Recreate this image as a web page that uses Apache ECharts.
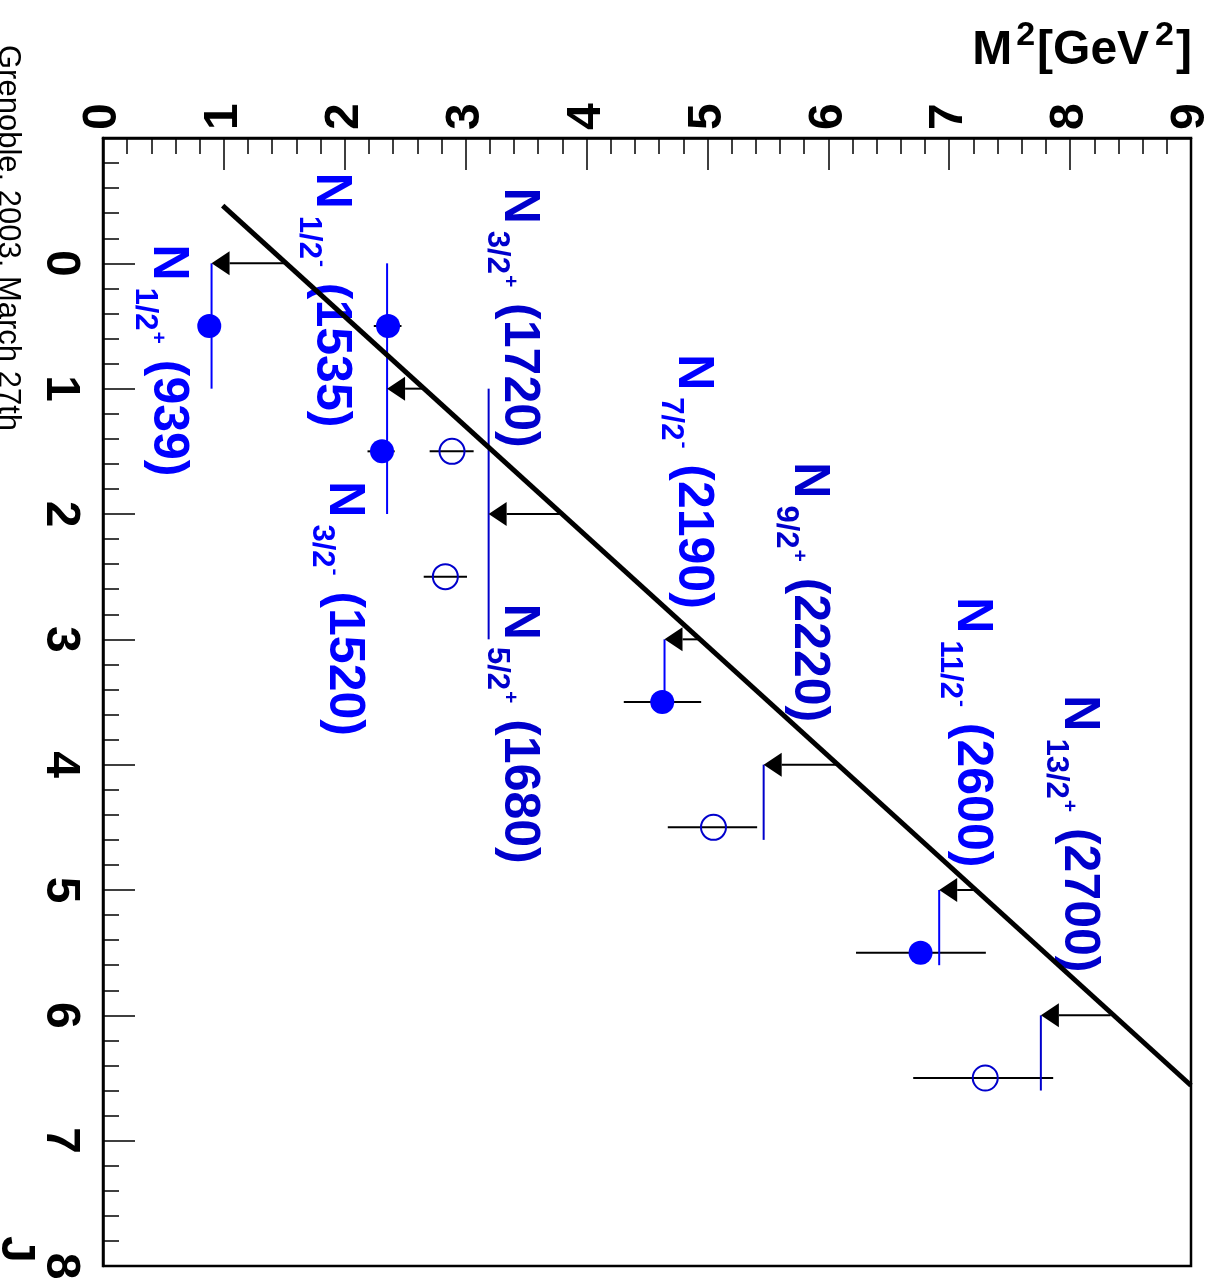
<!DOCTYPE html>
<html>
<head>
<meta charset="utf-8">
<script src="https://cdn.jsdelivr.net/npm/echarts@6/dist/echarts.min.js"></script>
<style>
  html, body { margin: 0; padding: 0; background: #fff; }
  #chart { width: 1215px; height: 1283px; }
</style>
</head>
<body>
<div id="chart"></div>
<script>
// Nucleon states in the (M^2, J) plane
const stateSpin   = ['1/2', '1/2', '3/2', '3/2', '5/2', '7/2', '9/2', '11/2', '13/2'];
const stateParity = ['+', '-', '-', '+', '+', '-', '+', '-', '+'];
const stateMass   = ['939', '1535', '1520', '1720', '1680', '2190', '2220', '2600', '2700'];
const stateM2     = [0.879, 2.358, 2.308, 2.887, 2.832, 4.626, 5.050, 6.763, 7.298];
const stateJ      = [0.5, 0.5, 1.5, 1.5, 2.5, 3.5, 4.5, 5.5, 6.5];
const stateM2Low  = [0.879, 2.240, 2.188, 2.702, 2.653, 4.308, 4.672, 6.229, 6.702];
const stateM2High = [0.879, 2.469, 2.413, 3.066, 3.011, 4.948, 5.411, 7.303, 7.860];
const stateFilled = [true, true, true, false, false, true, false, true, false];

// where each state's name is written (M^2, J of the text start)
const labelM2 = [0.533, 1.888, 1.993, 3.440, 3.440, 4.880, 5.836, 7.186, 8.068];
const labelJ  = [-0.151, -0.723, 1.739, -0.603, 2.717, 0.725, 1.588, 2.664, 3.447];

// linear Regge trajectory
const reggeM2 = [0.99, 9.0];
const reggeJ  = [-0.46, 6.56];

// arrows from the trajectory at integer J, and the bars hanging from their tips
const arrowJ      = [0, 1, 2, 3, 4, 5, 6];
const arrowFromM2 = [1.498, 2.645, 3.791, 4.948, 6.077, 7.207, 8.336];
const arrowToM2   = [0.898, 2.350, 3.190, 4.645, 5.465, 6.917, 7.758];
const dropJFrom   = [0, 0, 1, 3, 4, 5, 6];
const dropJTo     = [1, 2, 3, 3.5, 4.6, 5.6, 6.6];
const dropFilled  = [true, true, false, true, false, true, false];

// axis ranges
const m2Range = [0, 9];
const jRange  = [-1, 8];

const BRIGHT = '#0000ff';
const DARK = '#0000cc';
const FONT = 'Liberation Sans, Arial, Helvetica, sans-serif';
const HEAD_LEN = 18;
const HEAD_HALF = 12;

const chart = echarts.init(document.getElementById('chart'), null, { renderer: 'canvas' });

const filledPts = [], openPts = [], errBars = [], labels = [];
stateM2.forEach((m, i) => {
  (stateFilled[i] ? filledPts : openPts).push([m, stateJ[i]]);
  errBars.push([stateM2Low[i], stateM2High[i], stateJ[i]]);
  labels.push([labelM2[i], labelJ[i], i]);
});
const arrows = arrowJ.map((j, i) => [arrowFromM2[i], arrowToM2[i], j]);
const drops = arrowToM2.map((m, i) => [m, dropJFrom[i], dropJTo[i], dropFilled[i] ? 1 : 0]);
const regge = reggeM2.map((m, i) => [m, reggeJ[i]]);

function renderLabel(params, api) {
  const i = api.value(2);
  const p = api.coord([api.value(0), api.value(1)]);
  const color = stateFilled[i] ? BRIGHT : DARK;
  return {
    type: 'text',
    x: p[0], y: p[1],
    rotation: -Math.PI / 2,
    style: {
      text: '{n|N}{s|' + stateSpin[i] + '}{p|' + stateParity[i] + '}{n| (' + stateMass[i] + ')}',
      fill: color,
      align: 'left',
      verticalAlign: 'middle',
      fontFamily: FONT, fontWeight: 'bold', fontSize: 50,
      rich: {
        n: { fontSize: 50, fontWeight: 'bold', fontFamily: FONT, fill: color, verticalAlign: 'middle' },
        s: { fontSize: 31, fontWeight: 'bold', fontFamily: FONT, fill: color, verticalAlign: 'middle', padding: [45, 0, 0, 7] },
        p: { fontSize: 21, fontWeight: 'bold', fontFamily: FONT, fill: color, verticalAlign: 'middle', padding: [19, 2, 0, 1] }
      }
    }
  };
}

function renderArrow(params, api) {
  const j = api.value(2);
  const a = api.coord([api.value(0), j]);
  const b = api.coord([api.value(1), j]);
  return {
    type: 'group',
    children: [
      { type: 'line', shape: { x1: a[0], y1: a[1], x2: b[0] + HEAD_LEN, y2: b[1] },
        style: { stroke: '#000', lineWidth: 2 } },
      { type: 'polygon', shape: { points: [[b[0], b[1]], [b[0] + HEAD_LEN, b[1] - HEAD_HALF], [b[0] + HEAD_LEN, b[1] + HEAD_HALF]] },
        style: { fill: '#000' } }
    ]
  };
}

function renderDrop(params, api) {
  const m = api.value(0);
  const a = api.coord([m, api.value(1)]);
  const b = api.coord([m, api.value(2)]);
  return {
    type: 'line',
    shape: { x1: a[0], y1: a[1], x2: b[0], y2: b[1] },
    style: { stroke: api.value(3) ? BRIGHT : DARK, lineWidth: 2 }
  };
}

function renderErr(params, api) {
  const j = api.value(2);
  const a = api.coord([api.value(0), j]);
  const b = api.coord([api.value(1), j]);
  return {
    type: 'line',
    shape: { x1: a[0], y1: a[1], x2: b[0], y2: b[1] },
    style: { stroke: '#000', lineWidth: 2 }
  };
}

const tickLabel = { fontFamily: FONT, fontWeight: 'bold', fontSize: 48, color: '#000' };

chart.setOption({
  animation: false,
  backgroundColor: '#fff',
  grid: { left: 103, right: 22, top: 138, bottom: 17, show: true, borderColor: '#000', borderWidth: 2.5, backgroundColor: 'transparent' },
  xAxis: {
    type: 'value', position: 'top', min: m2Range[0], max: m2Range[1], interval: 1,
    axisLine: { show: true, onZero: false, lineStyle: { color: '#000', width: 2.5 } },
    axisTick: { show: true, inside: true, length: 32, lineStyle: { color: '#000', width: 1.5 } },
    minorTick: { show: true, splitNumber: 5, length: 16, lineStyle: { color: '#000', width: 1.5 } },
    splitLine: { show: false },
    axisLabel: Object.assign({ rotate: -90, margin: 8 }, tickLabel)
  },
  yAxis: {
    type: 'value', inverse: true, min: jRange[0], max: jRange[1], interval: 1,
    axisLine: { show: true, onZero: false, lineStyle: { color: '#000', width: 2.5 } },
    axisTick: { show: true, inside: true, length: 32, lineStyle: { color: '#000', width: 1.5 } },
    minorTick: { show: true, splitNumber: 5, length: 16, lineStyle: { color: '#000', width: 1.5 } },
    splitLine: { show: false },
    axisLabel: Object.assign({ rotate: -90, margin: 19, formatter: v => (v < 0 ? '' : String(v)) }, tickLabel)
  },
  graphic: [
    {
      type: 'text', x: 1192, y: 51, z: 10,
      style: {
        text: '{m|M}{u|2}{m|[GeV}{v|2}{m|]}',
        align: 'right', verticalAlign: 'middle', fill: '#000',
        fontFamily: FONT, fontWeight: 'bold', fontSize: 48,
        rich: {
          m: { fontSize: 48, fontWeight: 'bold', fontFamily: FONT, fill: '#000' },
          u: { fontSize: 34, fontWeight: 'bold', fontFamily: FONT, fill: '#000', padding: [0, 2, 30, 4] },
          v: { fontSize: 34, fontWeight: 'bold', fontFamily: FONT, fill: '#000', padding: [0, 2, 30, 6] }
        }
      }
    },
    {
      type: 'text', x: 15, y: 1236, rotation: -Math.PI / 2, z: 10,
      style: { text: 'J', align: 'left', verticalAlign: 'middle', fill: '#000', fontFamily: FONT, fontWeight: 'bold', fontSize: 48 }
    },
    {
      type: 'text', x: 8, y: 45, rotation: -Math.PI / 2, z: 10,
      style: { text: 'Grenoble, 2003, March 27th', align: 'left', verticalAlign: 'middle', fill: '#000', fontFamily: FONT, fontSize: 31 }
    }
  ],
  series: [
    { type: 'custom', name: 'labels', z: 1, coordinateSystem: 'cartesian2d', renderItem: renderLabel, data: labels, silent: true },
    { type: 'custom', name: 'M2 error', z: 2, coordinateSystem: 'cartesian2d', renderItem: renderErr, data: errBars, silent: true },
    { type: 'custom', name: 'drops', z: 2, coordinateSystem: 'cartesian2d', renderItem: renderDrop, data: drops, silent: true },
    { type: 'scatter', name: 'filled', z: 3, data: filledPts, symbol: 'circle', symbolSize: 24,
      itemStyle: { color: BRIGHT, opacity: 1 }, silent: true },
    { type: 'scatter', name: 'open', z: 3, data: openPts, symbol: 'circle', symbolSize: 25,
      itemStyle: { color: 'rgba(0,0,0,0)', borderColor: DARK, borderWidth: 2, opacity: 1 }, silent: true },
    { type: 'custom', name: 'arrows', z: 4, coordinateSystem: 'cartesian2d', renderItem: renderArrow, data: arrows, silent: true },
    { type: 'line', name: 'Regge', z: 5, data: regge, symbol: 'none', silent: true,
      lineStyle: { color: '#000', width: 5 } }
  ]
});
</script>
</body>
</html>
